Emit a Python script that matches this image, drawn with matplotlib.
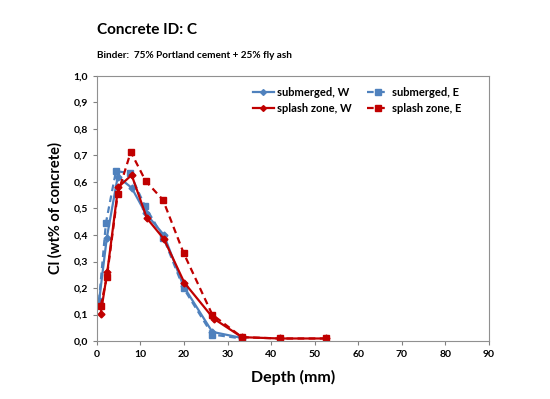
import matplotlib
matplotlib.use("Agg")
import matplotlib.pyplot as plt
from matplotlib.ticker import FuncFormatter

plt.rcParams['font.family'] = ['Lato', 'DejaVu Sans']

sub_w_depth = [0.5, 2.3, 4.8, 8.0, 11.2, 15.4, 19.9, 26.5, 33.3]
sub_w_cl = [0.148, 0.39, 0.62, 0.578, 0.482, 0.40, 0.207, 0.035, 0.012]

sub_e_depth = [0.5, 2.1, 4.4, 7.6, 11.0, 15.3, 19.9, 26.5, 33.3]
sub_e_cl = [0.15, 0.446, 0.641, 0.633, 0.51, 0.39, 0.20, 0.025, 0.01]

spl_w_depth = [0.9, 2.4, 4.9, 8.0, 11.5, 15.4, 20.1, 26.8, 33.3, 42.0, 52.5]
spl_w_cl = [0.104, 0.26, 0.58, 0.626, 0.463, 0.385, 0.22, 0.085, 0.015, 0.01, 0.01]

spl_e_depth = [0.9, 2.3, 4.8, 7.8, 11.2, 15.2, 19.9, 26.5, 33.3, 42.0, 52.5]
spl_e_cl = [0.133, 0.24, 0.555, 0.713, 0.604, 0.532, 0.333, 0.10, 0.015, 0.01, 0.01]

title = "Concrete ID: C"
subtitle = "Binder:  75% Portland cement + 25% fly ash"

blue = "#4F81BD"
red = "#C00000"

fig = plt.figure(figsize=(5.5, 3.99), dpi=100)
ax = fig.add_axes([0.176, 0.145, 0.713, 0.665])

h1, = ax.plot(sub_w_depth, sub_w_cl, color=blue, lw=1.6, marker='D', ms=3.5, label="submerged, W")
h2, = ax.plot(sub_e_depth, sub_e_cl, color=blue, lw=1.6, ls=(0, (3, 2)), marker='s', ms=5, label="submerged, E")
h3, = ax.plot(spl_w_depth, spl_w_cl, color=red, lw=1.6, marker='D', ms=3.5, label="splash zone, W")
h4, = ax.plot(spl_e_depth, spl_e_cl, color=red, lw=1.6, ls=(0, (3, 2)), marker='s', ms=5, label="splash zone, E")

ax.set_xlim(0, 90)
ax.set_ylim(0, 1.0)
ax.set_xticks(range(0, 91, 10))
ax.set_yticks([i / 10 for i in range(11)])
ax.yaxis.set_major_formatter(FuncFormatter(lambda v, p: f"{v:.1f}".replace('.', ',')))
for lab in ax.get_xticklabels() + ax.get_yticklabels():
    lab.set_fontweight('bold')
ax.tick_params(labelsize=7.5, length=3, color='#808080', width=0.8)
for s in ax.spines.values():
    s.set_color('#909090')
    s.set_linewidth(0.8)

ax.set_xlabel("Depth (mm)", fontsize=11.5, fontweight='bold', labelpad=8)
ax.set_ylabel("Cl (wt% of concrete)", fontsize=10.5, fontweight='bold', labelpad=8)

fig.text(97 / 550, 1 - 30 / 399, title, fontsize=11, fontweight='bold', va='center', ha='left')
fig.text(97 / 550, 1 - 55 / 399, subtitle, fontsize=7.2, fontweight='bold', va='center', ha='left')

leg = ax.legend([h1, h3, h2, h4], [h.get_label() for h in (h1, h3, h2, h4)],
                loc='upper right', ncol=2, fontsize=8, frameon=False,
                bbox_to_anchor=(0.955, 0.995), handlelength=1.9, columnspacing=1.4,
                handletextpad=0.3, labelspacing=0.45, markerscale=0.85)
for t in leg.get_texts():
    t.set_fontweight('bold')

fig.savefig("out.png", dpi=100)
